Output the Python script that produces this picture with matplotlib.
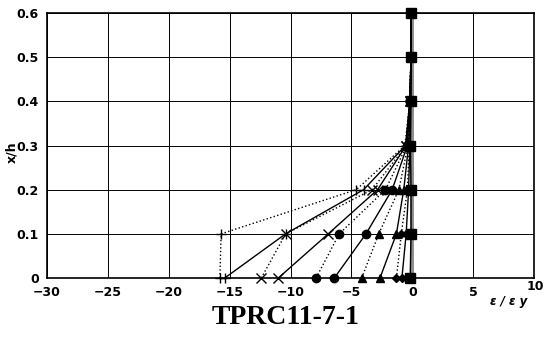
import numpy as np
import matplotlib
matplotlib.use('Agg')
import matplotlib.pyplot as plt

# ---- dados ----
heights = [0, 0.1, 0.2, 0.3, 0.4, 0.5, 0.6]

plus_dot = [-15.8, -15.7, -4.6, -0.6, -0.2, -0.1, -0.1]
plus_sol = [-15.4, -10.4, -4.0, -0.55, -0.2, -0.1, -0.1]
x_dot = [-12.4, -10.4, -3.3, -0.5, -0.2, -0.1, -0.1]
x_sol = [-11.0, -6.9, -2.85, -0.5, -0.2, -0.1, -0.1]
circ_dot = [-7.9, -6.0, -2.2, -0.45, -0.2, -0.1, -0.1]
circ_sol = [-6.4, -3.8, -1.65, -0.4, -0.2, -0.1, -0.1]
tri_dot = [-4.15, -2.75, -1.1, -0.35, -0.2, -0.1, -0.1]
tri_sol = [-2.65, -1.3, -0.7, -0.3, -0.15, -0.1, -0.1]
dia_dot = [-1.3, -0.9, -0.4, -0.25, -0.15, -0.1, -0.1]
dia_sol = [-0.85, -0.5, -0.3, -0.2, -0.15, -0.1, -0.1]
sq_sol = [-0.17, -0.1, -0.1, -0.15, -0.1, -0.1, -0.1]

series = [
    (plus_dot, '+', ':', 7.5),
    (plus_sol, '+', '-', 7.5),
    (x_dot, 'x', ':', 6.5),
    (x_sol, 'x', '-', 6.5),
    (circ_dot, 'o', ':', 6),
    (circ_sol, 'o', '-', 6),
    (tri_dot, '^', ':', 6),
    (tri_sol, '^', '-', 6),
    (dia_dot, 'D', ':', 4.5),
    (dia_sol, 'D', '-', 4.5),
    (sq_sol, 's', '-', 7),
]

xticks = [-30, -25, -20, -15, -10, -5, 0, 5, 10]
yticks = [0, 0.1, 0.2, 0.3, 0.4, 0.5, 0.6]

fig = plt.figure(figsize=(5.49, 3.38), dpi=100)
ax = fig.add_axes([0.0856, 0.1775, 0.8871, 0.784])

# grade preta fina
for xv in xticks:
    ax.axvline(xv, color='black', lw=0.7, zorder=0)
for yv in yticks:
    ax.axhline(yv, color='black', lw=0.7, zorder=0)
ax.axvline(0, color='#8c8c8c', lw=2.8, zorder=1)

for xs, mk, ls, ms in series:
    ax.plot(xs, heights, color='black', linestyle=ls, lw=1.0,
            marker=mk, markersize=ms, markeredgewidth=1.0,
            markerfacecolor='black', markeredgecolor='black',
            zorder=3, clip_on=False)

ax.set_xlim(-30, 10)
ax.set_ylim(0, 0.6)
ax.set_xticks(xticks)
ax.set_yticks(yticks)
ax.set_xticklabels(['\u221230', '\u221225', '\u221220', '\u221215', '\u221210', '\u22125', '0', '5', ''])
ax.set_yticklabels(['0', '0.1', '0.2', '0.3', '0.4', '0.5', '0.6'])
ax.tick_params(length=0, labelsize=9, pad=6)
for lab in ax.get_xticklabels() + ax.get_yticklabels():
    lab.set_fontweight('bold')
for sp in ax.spines.values():
    sp.set_linewidth(1.2)

fig.text(535 / 549, 1 - 287 / 338, '10', ha='center', va='center', fontsize=9, fontweight='bold')
fig.text(509 / 549, 1 - 302 / 338, '\u03b5 / \u03b5 y', ha='center', va='center',
         fontsize=8.5, fontweight='bold', style='italic')
fig.text(12 / 549, 1 - 152 / 338, 'x/h', rotation=90, ha='center', va='center',
         fontsize=9, fontweight='bold')
fig.text(286 / 549, 1 - 318 / 338, 'TPRC11-7-1', ha='center', va='center',
         fontsize=20, fontweight='bold', family='Liberation Serif')

fig.savefig('out.png', dpi=100)
